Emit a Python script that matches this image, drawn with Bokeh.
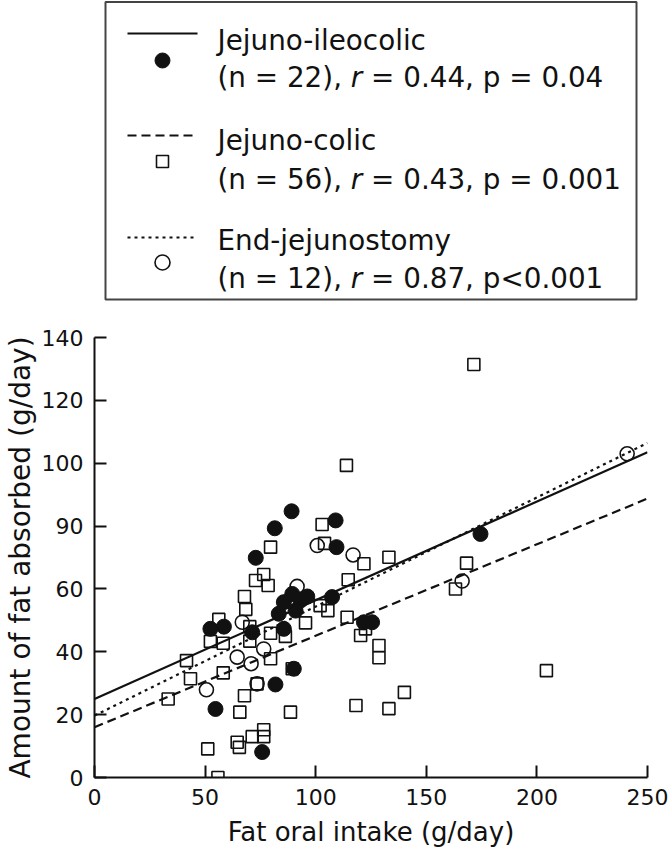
from bokeh.plotting import figure
from bokeh.layouts import column
from bokeh.models import Range1d, FixedTicker
from bokeh.core.properties import value
from bokeh.embed import file_html
from bokeh.resources import INLINE

# ---------------- data ----------------
ileo_x = [89.1, 109.0, 81.5, 109.4, 72.9, 89.4, 85.6, 93.1, 96.2, 90.9, 83.3, 107.4,
          85.6, 71.3, 52.4, 58.5, 90.1, 81.8, 54.7, 75.8, 121.8, 125.5, 174.5]
ileo_y = [84.7, 81.8, 79.3, 73.3, 69.9, 58.4, 55.8, 56.3, 57.6, 53.1, 52.1, 57.4,
          47.3, 46.2, 47.3, 48.0, 34.6, 29.6, 21.8, 8.1, 49.4, 49.4, 77.5]

colic_x = [102.9, 79.6, 76.5, 72.8, 78.5, 67.8, 68.4, 56.2, 70.2, 52.4, 58.2, 70.2,
           79.6, 86.3, 95.4, 105.5, 41.6, 79.6, 43.4, 58.2, 73.5, 33.3, 67.8, 65.7,
           88.6, 51.2, 64.5, 65.5, 71.3, 76.5, 76.5, 89.4, 114.2, 120.3, 122.5, 128.6,
           128.6, 118.2, 113.9, 104.0, 121.8, 114.7, 171.5, 133.1, 168.2, 163.2, 204.3,
           140.1, 133.1, 55.8, 102.0]
colic_y = [80.5, 73.3, 64.6, 62.7, 61.1, 57.6, 53.5, 50.3, 48.0, 43.3, 42.7, 43.4,
           45.9, 44.9, 49.2, 53.1, 37.2, 37.8, 31.4, 33.3, 29.8, 25.0, 26.0, 20.8,
           20.8, 9.1, 11.2, 9.6, 13.0, 15.2, 13.0, 34.6, 51.0, 45.2, 47.3, 42.0,
           38.1, 22.9, 99.3, 74.5, 68.0, 62.9, 131.4, 70.1, 68.2, 60.0, 34.0,
           27.1, 21.9, 0.0, 54.7]

endj_x = [100.7, 91.6, 66.8, 76.5, 64.5, 70.8, 73.5, 50.6, 116.9, 166.2, 240.8]
endj_y = [73.8, 60.8, 49.4, 40.9, 38.3, 36.2, 29.8, 27.9, 70.8, 62.5, 103.0]

# regression lines (intercept, slope)
group_names = ["Jejuno-ileocolic", "Jejuno-colic", "End-jejunostomy"]
group_n = [22, 56, 12]
group_r = ["0.44", "0.43", "0.87"]
group_p = ["p = 0.04", "p = 0.001", "p<0.001"]
line_intercept = [25.0, 16.0, 19.7]
line_slope = [0.314, 0.291, 0.347]

x_ticks = [0, 50, 100, 150, 200, 250]
y_ticks = [0, 20, 40, 60, 80, 100, 120, 140]
y_tick_labels = ["0", "20", "40", "60", "90", "100", "120", "140"]

x_title = "Fat oral intake (g/day)"
y_title = "Amount of fat absorbed (g/day)"

FONT = "DejaVu Sans"
INK = "#111111"
dashes = ["solid", "9 5", "3 4"]
LFS = 27.8  # legend font size (px)

BL, BR = 94, 22  # shared left / right borders of both panels

# ---------------- legend panel ----------------
leg = figure(width=669, height=301, x_range=Range1d(-11, 542), y_range=Range1d(301, 0),
             x_axis_type=None, y_axis_type=None, output_backend="svg",
             toolbar_location=None, min_border_left=BL, min_border_right=BR,
             min_border_top=0, min_border_bottom=0)
leg.grid.visible = False
leg.outline_line_color = None
leg.quad(left=[0], right=[531], top=[1.5], bottom=[299], fill_color=None,
         line_color="#444444", line_width=2)

row_line_y = [33, 135, 237]
row_mark_y = [60, 161, 262]
row_base1 = [40, 140, 240]
row_base2 = [77, 179, 278]
TX = 112
w_prefix = 4.796 * LFS
w_r = 0.411 * LFS
w_sp = 0.318 * LFS
for i in range(3):
    y0 = row_line_y[i]
    leg.line(x=[22, 92], y=[y0, y0], line_color=INK, line_width=2.2, line_dash=dashes[i])
    my = row_mark_y[i]
    if i == 0:
        leg.scatter(x=[57], y=[my], marker="circle", size=15, fill_color=INK, line_color=INK)
    elif i == 1:
        leg.scatter(x=[57], y=[my], marker="square", size=12, fill_color=None,
                    line_color=INK, line_width=1.6)
    else:
        leg.scatter(x=[57], y=[my], marker="circle", size=15, fill_color=None,
                    line_color=INK, line_width=1.6)
    common = dict(text_font=value(FONT), text_font_size=f"{LFS}px",
                  text_baseline="alphabetic", text_color=INK)
    leg.text(x=[TX], y=[row_base1[i]], text=[group_names[i]], **common)
    leg.text(x=[TX], y=[row_base2[i]], text=[f"(n = {group_n[i]}),"], **common)
    leg.text(x=[TX + w_prefix], y=[row_base2[i]], text=["r"], text_font_style="italic", **common)
    leg.text(x=[TX + w_prefix + w_r + w_sp], y=[row_base2[i]],
             text=[f"= {group_r[i]}, {group_p[i]}"], **common)

# ---------------- main scatter ----------------
p = figure(width=669, height=552, x_range=Range1d(0, 250), y_range=Range1d(0, 140),
           output_backend="svg", toolbar_location=None,
           min_border_left=BL, min_border_right=BR, min_border_top=36, min_border_bottom=76)
p.grid.visible = False
p.outline_line_color = None

for i in range(3):
    xs = [0, 250]
    ys = [line_intercept[i] + line_slope[i] * x for x in xs]
    p.line(x=xs, y=ys, line_color=INK, line_width=2.2, line_dash=dashes[i])

p.scatter(x=colic_x, y=colic_y, marker="square", size=12, fill_color=None,
          line_color=INK, line_width=1.6)
p.scatter(x=endj_x, y=endj_y, marker="circle", size=14, fill_color=None,
          line_color=INK, line_width=1.6)
p.scatter(x=ileo_x, y=ileo_y, marker="circle", size=15, fill_color=INK, line_color=INK)

p.xaxis.ticker = FixedTicker(ticks=x_ticks)
p.yaxis.ticker = FixedTicker(ticks=y_ticks)
p.yaxis.major_label_overrides = {t: l for t, l in zip(y_ticks, y_tick_labels)}
p.xaxis.axis_label = x_title
p.yaxis.axis_label = y_title

for ax in (p.xaxis, p.yaxis):
    ax.axis_line_color = INK
    ax.axis_line_width = 2
    ax.major_tick_line_color = INK
    ax.major_tick_line_width = 2
    ax.major_tick_in = 12
    ax.major_tick_out = 0
    ax.minor_tick_line_color = None
    ax.major_label_text_font = FONT
    ax.major_label_text_font_size = "22px"
    ax.major_label_text_color = INK
    ax.axis_label_text_font = FONT
    ax.axis_label_text_font_style = "normal"
    ax.axis_label_text_color = INK

p.xaxis.major_label_standoff = 11
p.xaxis.axis_label_standoff = 9
p.xaxis.axis_label_text_font_size = "26px"
p.yaxis.major_label_standoff = 11
p.yaxis.axis_label_standoff = 2
p.yaxis.axis_label_text_font_size = "28px"

layout = column(leg, p)
open("out.html", "w").write(file_html(layout, INLINE))
